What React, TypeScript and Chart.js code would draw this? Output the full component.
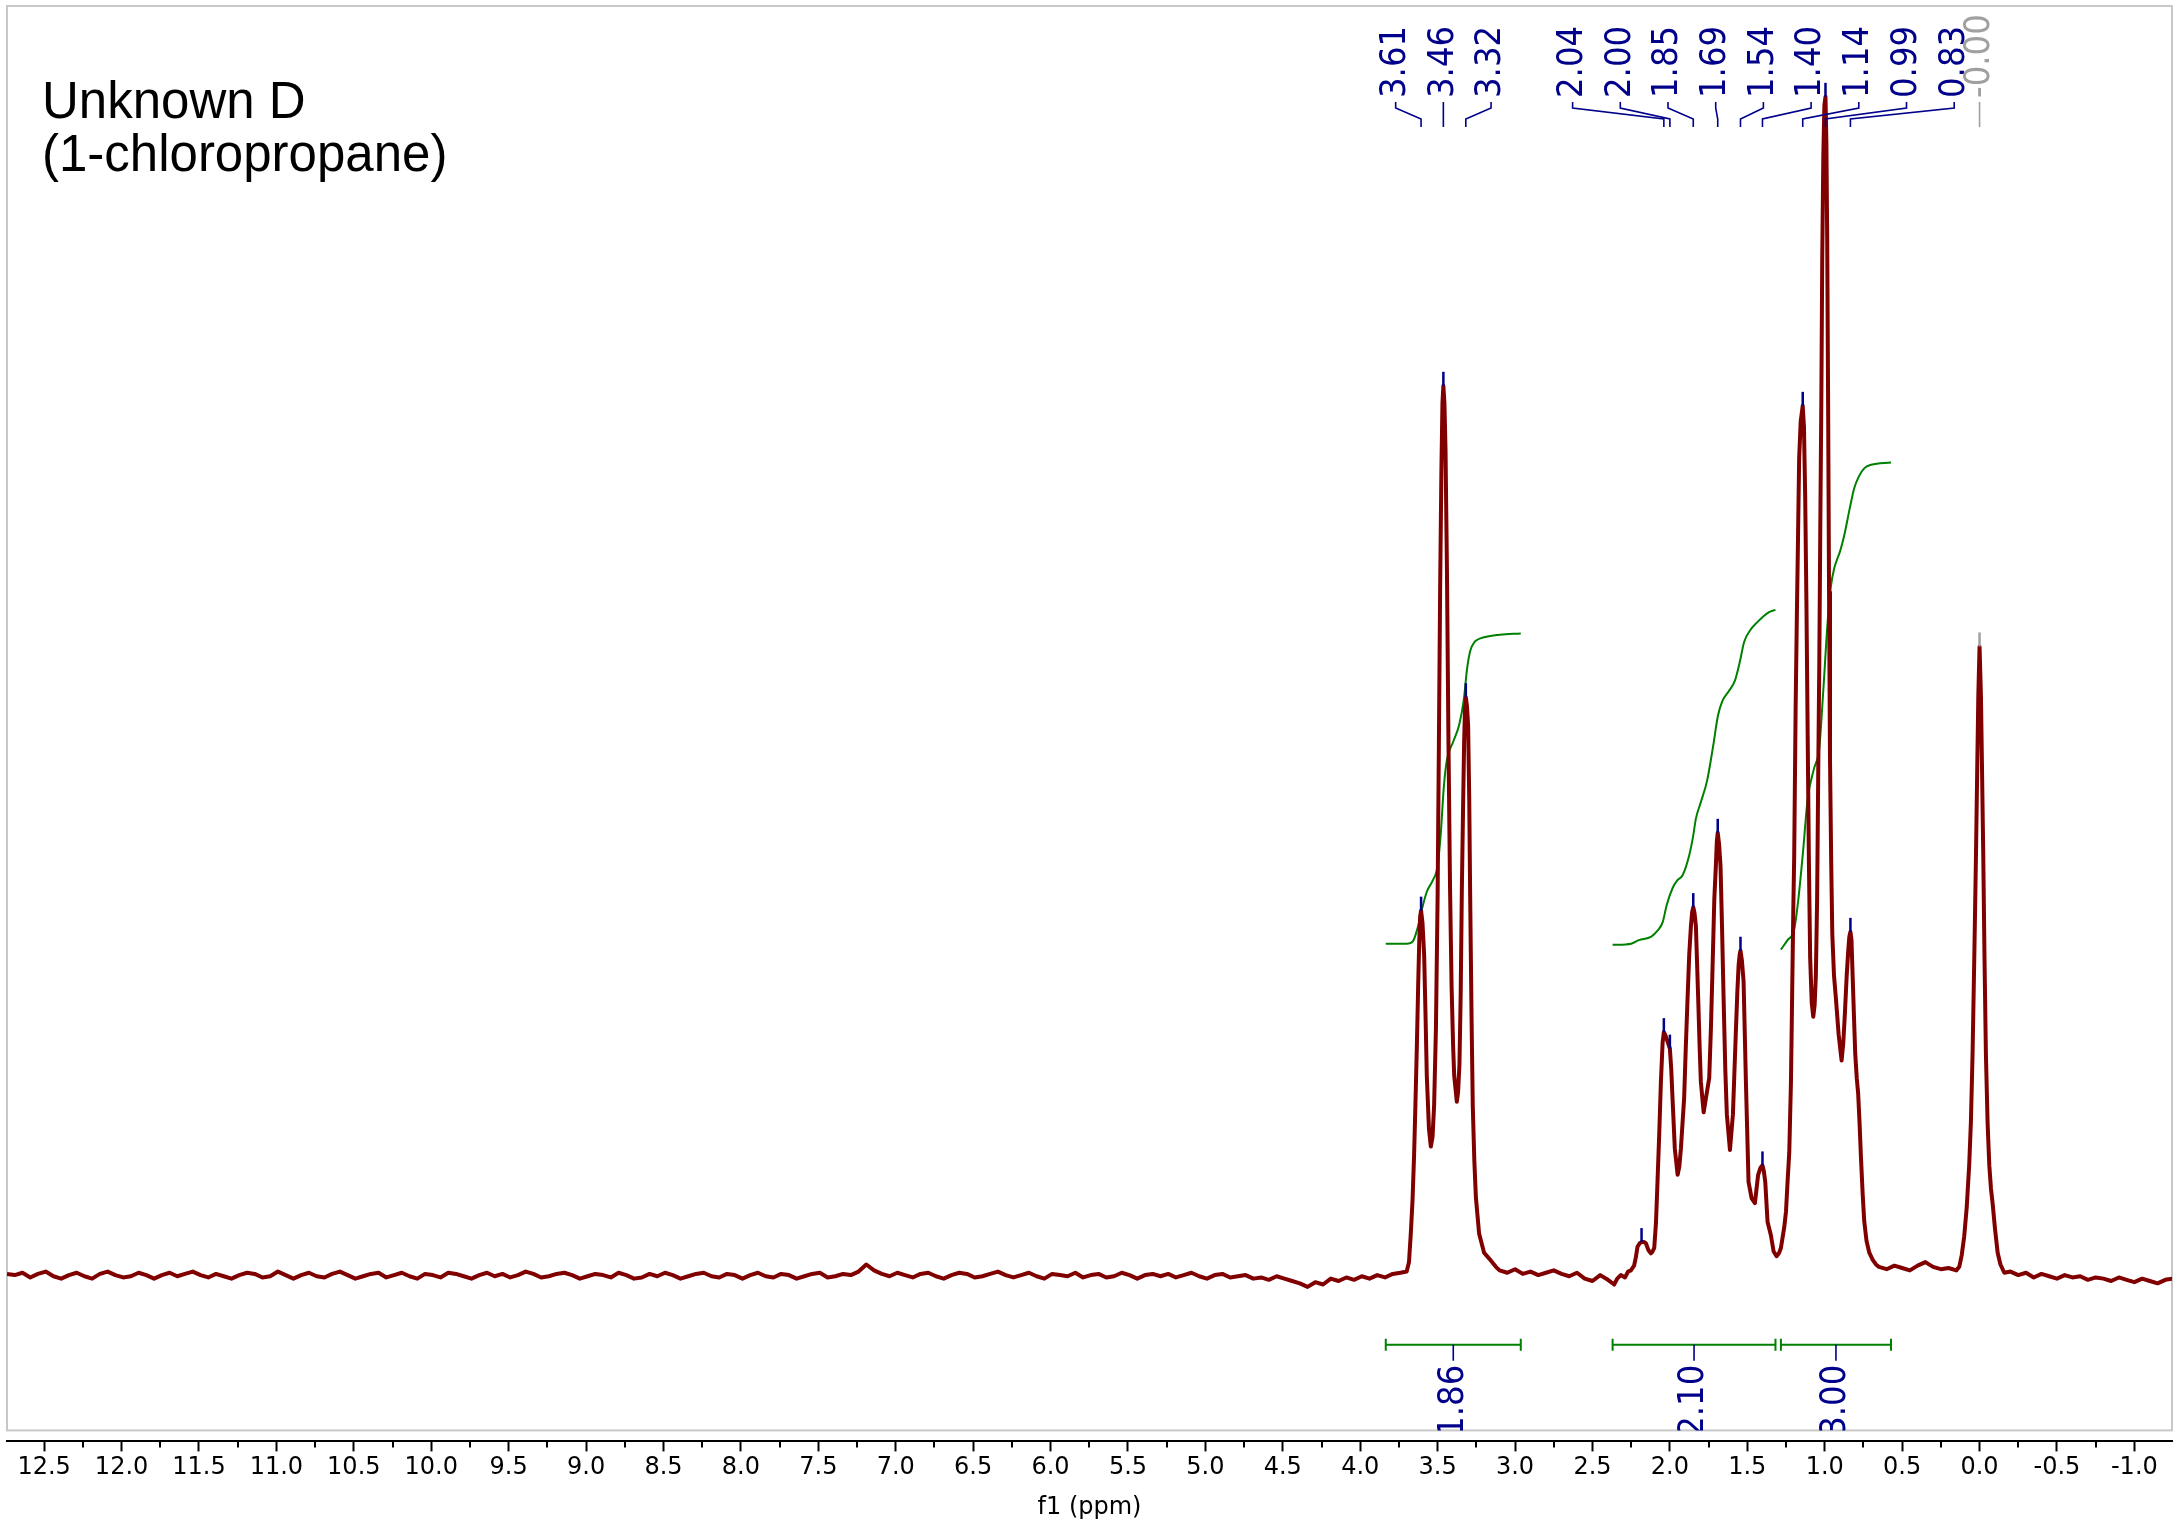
import React, { useEffect, useRef } from "react";
import { Chart, registerables } from "chart.js";

Chart.register(...registerables);

// ---- axis ranges (ppm, drawn reversed) and intensity range ----
const X_LEFT_PPM = 12.74;
const X_RIGHT_PPM = -1.243;
const Y_MIN = -14.0;
const Y_MAX = 107.7;
const X_TICK_STEP = 0.5;
const X_MINOR_STEP = 0.25;

const TITLE_LINES = ["Unknown D", "(1-chloropropane)"];
const X_AXIS_TITLE = "f1 (ppm)";

// ---- spectrum: baseline noise segments (start ppm, 0.05 ppm step) ----
const NOISE_STEP = 0.05;
const NOISE_A_START = 12.74;
const NOISE_A = [
  0.2, 0.1, 0.3, -0.1, 0.2, 0.4, 0.0, -0.2, 0.1, 0.3,
  0.0, -0.2, 0.2, 0.4, 0.1, -0.1, 0.0, 0.3, 0.1, -0.2,
  0.1, 0.3, 0.0, 0.2, 0.4, 0.1, -0.1, 0.2, 0.0, -0.2,
  0.1, 0.3, 0.2, -0.1, 0.0, 0.4, 0.1, -0.2, 0.1, 0.3,
  0.0, -0.1, 0.2, 0.4, 0.1, -0.2, 0.0, 0.2, 0.3, -0.1,
  0.1, 0.3, 0.0, -0.2, 0.2, 0.1, -0.1, 0.3, 0.2, 0.0,
  -0.2, 0.1, 0.3, 0.0, 0.2, -0.1, 0.1, 0.4, 0.2, -0.1,
  0.0, 0.2, 0.3, 0.1, -0.2, 0.0, 0.2, 0.1, -0.1, 0.3,
  0.1, -0.2, -0.1, 0.2, 0.0, 0.3, 0.1, -0.2, 0.0, 0.2,
  0.3, 0.0, -0.1, 0.2, 0.1, -0.2, 0.1, 0.3, 0.0, -0.1,
  0.2, 0.1, -0.2, 0.0, 0.2, 0.3, -0.1, 0.0, 0.2, 0.1,
  0.4, 1.0, 0.5, 0.2, 0.0, 0.3, 0.1, -0.1, 0.2, 0.3,
  0.0, -0.2, 0.1, 0.3, 0.2, -0.1, 0.0, 0.2, 0.4, 0.1,
  -0.1, 0.1, 0.3, 0.0, -0.2, 0.2, 0.1, 0.0, 0.3, -0.1,
  0.1, 0.2, -0.1, 0.0, 0.3, 0.1, -0.2, 0.1, 0.2, 0.0,
  0.2, -0.1, 0.1, 0.3, 0.0, -0.2, 0.1, 0.2, -0.1, 0.0,
  0.1, -0.2, -0.1, -0.3, 0.0, -0.2, -0.4, -0.6, -0.9, -0.5,
  -0.7, -0.2, -0.4, -0.1, -0.3, 0.0, -0.2, 0.1, -0.1, 0.2, 0.3,
];

// CH2Cl triplet (ppm, intensity)
const PEAKS_CH2CL: [number, number][] = [
  [3.70, 0.4], [3.685, 1.2], [3.673, 3.7], [3.662, 6.5], [3.652, 10.3], [3.643, 14.8],
  [3.634, 19.6], [3.626, 24.5], [3.619, 28.3], [3.613, 30.5], [3.607, 31.0], [3.598, 30.0],
  [3.587, 27.2], [3.578, 22.0], [3.57, 17.0], [3.556, 12.5], [3.544, 11.0], [3.533, 11.8],
  [3.523, 14.4], [3.511, 21.0], [3.5, 32.4], [3.492, 45], [3.484, 58.1], [3.476, 68],
  [3.469, 74.0], [3.463, 75.5], [3.456, 74.0], [3.449, 70.0], [3.44, 60], [3.43, 45.2],
  [3.42, 33], [3.41, 24.6], [3.40, 19.5], [3.393, 17], [3.376, 14.8], [3.368, 15.6],
  [3.359, 18.0], [3.351, 24], [3.344, 32.4], [3.336, 39.5], [3.329, 45.2], [3.323, 48.3],
  [3.318, 49.1], [3.311, 48.4], [3.303, 46.7], [3.296, 40.5], [3.29, 32.4], [3.281, 22],
  [3.273, 14.4], [3.263, 9.8], [3.253, 6.7], [3.232, 3.6], [3.20, 2.0], [3.167, 1.5],
  [3.124, 0.8],
];

const NOISE_B_START = 3.10;
const NOISE_B = [0.5, 0.3, 0.6, 0.2, 0.4, 0.1, 0.3, 0.5, 0.2, 0.0, 0.3, -0.2, -0.4, 0.1];

// CH2 sextet + CH3 triplet region (ppm, intensity)
const PEAKS_CH2_CH3: [number, number][] = [
  [2.40, -0.3], [2.36, -0.7], [2.34, -0.2], [2.317, 0.1], [2.29, -0.1], [2.27, 0.4],
  [2.252, 0.5], [2.231, 0.9], [2.22, 1.6], [2.209, 2.5], [2.195, 2.8], [2.183, 2.9],
  [2.168, 2.9], [2.155, 2.8], [2.138, 2.2], [2.123, 1.95], [2.112, 2.1], [2.101, 2.4],
  [2.09, 4.5], [2.08, 8.0], [2.069, 12.0], [2.058, 16.5], [2.047, 19.8], [2.039, 20.7],
  [2.028, 20.4], [2.015, 19.9], [2.0, 19.3], [1.991, 17.5], [1.983, 15.1], [1.968, 10.8],
  [1.95, 8.6], [1.939, 9.3], [1.929, 10.8], [1.908, 15.1], [1.897, 19.5], [1.886, 23.5],
  [1.875, 27.3], [1.864, 29.7], [1.856, 30.9], [1.849, 31.3], [1.841, 30.8], [1.832, 29.7],
  [1.817, 23.5], [1.808, 19.5], [1.80, 16.5], [1.782, 13.9], [1.771, 14.8], [1.761, 15.6],
  [1.746, 16.8], [1.735, 21], [1.724, 26.4], [1.713, 32], [1.703, 34.8], [1.697, 36.8],
  [1.691, 37.6], [1.682, 36.6], [1.673, 34.8], [1.663, 29.5], [1.653, 23.5], [1.642, 17.5],
  [1.632, 13.7], [1.612, 10.7], [1.593, 13.7], [1.584, 17], [1.574, 20.7], [1.564, 24.2],
  [1.556, 26.4], [1.549, 27.3], [1.544, 27.6], [1.535, 26.8], [1.524, 25.0], [1.509, 16.5],
  [1.492, 8.0], [1.472, 6.6], [1.451, 6.2], [1.43, 8.6], [1.415, 9.2], [1.402, 9.4],
  [1.393, 8.9], [1.384, 8.0], [1.369, 4.6], [1.348, 3.5], [1.33, 2.1], [1.311, 1.7],
  [1.294, 2.0], [1.283, 2.4], [1.262, 4.1], [1.25, 5.5], [1.240, 8.0], [1.229, 10.5],
  [1.218, 16.5], [1.212, 22.2], [1.203, 31], [1.197, 35.7], [1.188, 48], [1.18, 55.9],
  [1.172, 63], [1.165, 69.4], [1.155, 72.5], [1.142, 73.8], [1.134, 72], [1.126, 66],
  [1.118, 57], [1.11, 45.8], [1.102, 35], [1.094, 27], [1.084, 23.2], [1.074, 22.0],
  [1.065, 23], [1.057, 25.6], [1.049, 32], [1.042, 42.5], [1.035, 52], [1.029, 62.7],
  [1.022, 74], [1.016, 86.3], [1.009, 95], [1.002, 99.3], [0.995, 100], [0.989, 96],
  [0.984, 88], [0.978, 74], [0.972, 58], [0.966, 44], [0.958, 35], [0.951, 29.0],
  [0.94, 25.5], [0.928, 23.6], [0.91, 20.5], [0.891, 18.3], [0.88, 19.8], [0.87, 22.2],
  [0.858, 25.5], [0.848, 27.6], [0.841, 28.8], [0.834, 29.2], [0.827, 28.5], [0.82, 25.6],
  [0.811, 22], [0.803, 18.9], [0.793, 16.8], [0.784, 15.5], [0.775, 13], [0.766, 10.1],
  [0.755, 7], [0.745, 4.7], [0.73, 3.0], [0.712, 2.0], [0.69, 1.4], [0.669, 1.0],
];

const NOISE_C_START = 0.65;
const NOISE_C = [0.8, 0.6, 0.9, 0.7, 0.5, 0.9, 1.2, 0.8, 0.6, 0.7, 0.5];

// TMS reference singlet (ppm, intensity)
const PEAKS_TMS: [number, number][] = [
  [0.131, 0.8], [0.115, 1.8], [0.099, 3.4], [0.083, 5.8], [0.067, 9.4], [0.056, 13],
  [0.045, 18.9], [0.034, 27], [0.023, 35.7], [0.015, 43], [0.008, 49.2], [0.0, 53.4],
  [-0.009, 49.2], [-0.016, 43], [-0.024, 35.7], [-0.032, 27], [-0.041, 18.9], [-0.052, 13],
  [-0.063, 9.4], [-0.074, 7.4], [-0.085, 6.1], [-0.1, 4], [-0.117, 2.0], [-0.135, 1.0],
  [-0.16, 0.3],
];

const NOISE_D_START = -0.20;
const NOISE_D = [
  0.4, 0.1, 0.3, -0.1, 0.2, 0.0, -0.2, 0.1, -0.1, 0.0, -0.3,
  -0.1, -0.2, -0.4, -0.1, -0.3, -0.5, -0.2, -0.4, -0.6, -0.3, -0.2,
];

// ---- integral curves (ppm, height) ----
const INTEGRAL_1: [number, number][] = [
  [3.835, 28.2], [3.70, 28.2], [3.66, 28.4], [3.63, 29.5], [3.60, 31.2], [3.57, 32.6],
  [3.53, 33.6], [3.50, 34.8], [3.48, 37.5], [3.46, 41.5], [3.44, 43.8], [3.40, 45.3],
  [3.36, 46.8], [3.33, 49], [3.31, 51.5], [3.29, 53.0], [3.26, 53.8], [3.22, 54.1],
  [3.10, 54.4], [2.963, 54.5],
];
const INTEGRAL_2: [number, number][] = [
  [2.37, 28.1], [2.25, 28.2], [2.20, 28.5], [2.12, 28.8], [2.08, 29.3], [2.047, 30.0],
  [2.02, 31.5], [1.983, 32.9], [1.95, 33.6], [1.918, 34.0], [1.875, 35.7], [1.85, 37.3],
  [1.832, 38.8], [1.80, 40.2], [1.76, 42], [1.72, 45], [1.69, 47.5], [1.66, 48.8],
  [1.62, 49.6], [1.58, 50.5], [1.55, 52], [1.52, 53.8], [1.48, 54.8], [1.44, 55.4],
  [1.40, 55.9], [1.36, 56.3], [1.318, 56.5],
];
const INTEGRAL_3: [number, number][] = [
  [1.283, 27.7], [1.24, 28.5], [1.197, 29.4], [1.17, 32], [1.14, 36], [1.11, 40.5],
  [1.07, 43], [1.035, 44.8], [1.01, 49.5], [0.981, 55.5], [0.96, 58.5], [0.939, 60],
  [0.90, 61.5], [0.874, 62.8], [0.84, 65], [0.81, 66.8], [0.78, 67.8], [0.745, 68.5],
  [0.70, 68.8], [0.572, 69],
];

// ---- integration bars ----
const INTEGRAL_RANGES: [number, number][] = [[3.835, 2.963], [2.37, 1.318], [1.283, 0.572]];
const INTEGRAL_VALUES = ["1.86", "2.10", "3.00"];
const INTEGRAL_BAR_LEVEL = -5.8;

// ---- peak picking ----
const PEAK_PPM = [3.607, 3.463, 3.318, 2.039, 2.0, 1.849, 1.691, 1.544, 1.402, 1.142, 0.995, 0.834, 0.0];
const PEAK_LABELS = ["3.61", "3.46", "3.32", "2.04", "2.00", "1.85", "1.69", "1.54", "1.40", "1.14", "0.99", "0.83", "-0.00"];
const PEAK_HEIGHTS = [31.0, 75.5, 49.1, 20.7, 19.3, 31.3, 37.6, 27.6, 9.4, 73.8, 100, 29.2, 53.4];
const PEAK_IS_REFERENCE = [false, false, false, false, false, false, false, false, false, false, false, false, true];
const EXTRA_MARKER_PPM = [2.183];
const EXTRA_MARKER_HEIGHTS = [2.9];
const LABEL_GROUPS = [[0, 1, 2], [3, 4, 5, 6, 7, 8, 9, 10, 11], [12]];
const LABEL_GROUP_CENTER_PPM = [3.463, 1.396, 0.0];

// ---- styling ----
const SPECTRUM_COLOR = "#800000";
const INTEGRAL_COLOR = "#008000";
const LABEL_COLOR = "#00008B";
const REF_COLOR = "#a0a0a0";
const FRAME_COLOR = "#c8c8c8";
const LABEL_FONT = '36px "DejaVu Sans Condensed", "DejaVu Sans", sans-serif';
const AXIS_FONT_FAMILY = '"DejaVu Sans", Verdana, sans-serif';

function noisePoints(start: number, values: number[]) {
  return values.map((v, i) => ({ x: Math.round((start - i * NOISE_STEP) * 1000) / 1000, y: v }));
}
function pairPoints(list: [number, number][]) {
  return list.map(([x, y]) => ({ x, y }));
}

const nmrPlugin = {
  id: "nmrDecorations",
  beforeDraw(chart: any) {
    const { ctx, chartArea } = chart;
    const frameBottom = chartArea.bottom - 11;
    ctx.save();
    ctx.strokeStyle = FRAME_COLOR;
    ctx.lineWidth = 2;
    ctx.strokeRect(chartArea.left, chartArea.top, chartArea.right - chartArea.left, frameBottom - chartArea.top);
    ctx.restore();
  },
  afterDatasetsDraw(chart: any) {
    const { ctx, chartArea } = chart;
    const xs = chart.scales.x;
    const ys = chart.scales.y;
    const frameBottom = chartArea.bottom - 11;

    // title
    ctx.save();
    ctx.fillStyle = "#000";
    ctx.font = '51px "Liberation Sans", Arial, sans-serif';
    ctx.textAlign = "left";
    ctx.textBaseline = "alphabetic";
    ctx.fillText(TITLE_LINES[0], 42, 118);
    ctx.fillText(TITLE_LINES[1], 42, 171);
    ctx.restore();

    // peak markers
    ctx.save();
    ctx.lineWidth = 2.5;
    const marker = (ppm: number, h: number, color: string) => {
      const px = xs.getPixelForValue(ppm);
      const py = ys.getPixelForValue(h);
      ctx.strokeStyle = color;
      ctx.beginPath();
      ctx.moveTo(px, py - 14);
      ctx.lineTo(px, py);
      ctx.stroke();
    };
    PEAK_PPM.forEach((p, i) => marker(p, PEAK_HEIGHTS[i], PEAK_IS_REFERENCE[i] ? REF_COLOR : LABEL_COLOR));
    EXTRA_MARKER_PPM.forEach((p, i) => marker(p, EXTRA_MARKER_HEIGHTS[i], LABEL_COLOR));
    ctx.restore();

    // peak labels with leaders
    const spacing = 47.7;
    const textBottom = 100;
    ctx.save();
    ctx.beginPath();
    ctx.rect(chartArea.left, chartArea.top + 1, chartArea.right - chartArea.left, frameBottom - chartArea.top);
    ctx.clip();
    ctx.font = LABEL_FONT;
    try { (ctx as any).fontStretch = "condensed"; } catch (e) {}
    LABEL_GROUPS.forEach((group, gi) => {
      const cx = xs.getPixelForValue(LABEL_GROUP_CENTER_PPM[gi]);
      group.forEach((idx, k) => {
        const lx = cx + (k - (group.length - 1) / 2) * spacing;
        const peakX = xs.getPixelForValue(PEAK_PPM[idx]);
        const color = PEAK_IS_REFERENCE[idx] ? REF_COLOR : LABEL_COLOR;
        ctx.fillStyle = color;
        ctx.strokeStyle = color;
        ctx.save();
        ctx.translate(lx, textBottom - 2);
        ctx.rotate(-Math.PI / 2);
        ctx.textAlign = "left";
        ctx.textBaseline = "middle";
        ctx.fillText(PEAK_LABELS[idx], 0, 0);
        ctx.restore();
        ctx.lineWidth = 1.6;
        ctx.beginPath();
        ctx.moveTo(lx, textBottom + 2);
        ctx.lineTo(lx, textBottom + 8);
        ctx.lineTo(peakX, textBottom + 19);
        ctx.lineTo(peakX, textBottom + 27);
        ctx.stroke();
      });
    });
    ctx.restore();

    // integration bars and values
    const barY = ys.getPixelForValue(INTEGRAL_BAR_LEVEL);
    ctx.save();
    ctx.beginPath();
    ctx.rect(chartArea.left, chartArea.top, chartArea.right - chartArea.left, frameBottom - chartArea.top);
    ctx.clip();
    INTEGRAL_RANGES.forEach(([a, b], i) => {
      const x1 = xs.getPixelForValue(a);
      const x2 = xs.getPixelForValue(b);
      ctx.strokeStyle = INTEGRAL_COLOR;
      ctx.lineWidth = 2;
      ctx.beginPath();
      ctx.moveTo(x1, barY);
      ctx.lineTo(x2, barY);
      ctx.moveTo(x1, barY - 6);
      ctx.lineTo(x1, barY + 6);
      ctx.moveTo(x2, barY - 6);
      ctx.lineTo(x2, barY + 6);
      ctx.stroke();
      const mx = xs.getPixelForValue((a + b) / 2);
      ctx.strokeStyle = LABEL_COLOR;
      ctx.lineWidth = 1.6;
      ctx.beginPath();
      ctx.moveTo(mx, barY);
      ctx.lineTo(mx, barY + 16);
      ctx.stroke();
      ctx.fillStyle = LABEL_COLOR;
      ctx.font = LABEL_FONT;
      try { (ctx as any).fontStretch = "condensed"; } catch (e) {}
      ctx.save();
      ctx.translate(mx, barY + 20);
      ctx.rotate(-Math.PI / 2);
      ctx.textAlign = "right";
      ctx.textBaseline = "middle";
      ctx.fillText(INTEGRAL_VALUES[i], 0, 0);
      ctx.restore();
    });
    ctx.restore();
  },
  afterDraw(chart: any) {
    const { ctx } = chart;
    const xs = chart.scales.x;
    const axisY = xs.top;
    ctx.save();
    ctx.strokeStyle = "#000";
    ctx.lineWidth = 2;
    const lo = Math.ceil(X_RIGHT_PPM / X_MINOR_STEP);
    const hi = Math.floor(X_LEFT_PPM / X_MINOR_STEP);
    for (let k = lo; k <= hi; k++) {
      const v = k * X_MINOR_STEP;
      if (Math.abs(v / X_TICK_STEP - Math.round(v / X_TICK_STEP)) < 1e-6) continue;
      const px = Math.round(xs.getPixelForValue(v));
      ctx.beginPath();
      ctx.moveTo(px, axisY);
      ctx.lineTo(px, axisY + 6);
      ctx.stroke();
    }
    ctx.restore();
  },
};

export default function App() {
  const canvasRef = useRef<HTMLCanvasElement | null>(null);

  useEffect(() => {
    const canvas = canvasRef.current;
    if (!canvas) return;
    const spectrum = [
      ...noisePoints(NOISE_A_START, NOISE_A),
      ...pairPoints(PEAKS_CH2CL),
      ...noisePoints(NOISE_B_START, NOISE_B),
      ...pairPoints(PEAKS_CH2_CH3),
      ...noisePoints(NOISE_C_START, NOISE_C),
      ...pairPoints(PEAKS_TMS),
      ...noisePoints(NOISE_D_START, NOISE_D),
    ];
    const integralDs = (data: [number, number][]) => ({
      data: pairPoints(data),
      borderColor: INTEGRAL_COLOR,
      borderWidth: 2,
      pointRadius: 0,
      cubicInterpolationMode: "monotone" as const,
      fill: false,
    });
    const chart = new Chart(canvas, {
      type: "line",
      data: {
        datasets: [
          {
            data: spectrum,
            borderColor: SPECTRUM_COLOR,
            borderWidth: 4,
            pointRadius: 0,
            tension: 0,
            borderJoinStyle: "round",
            fill: false,
          },
          integralDs(INTEGRAL_1),
          integralDs(INTEGRAL_2),
          integralDs(INTEGRAL_3),
        ],
      },
      options: {
        animation: false,
        responsive: false,
        devicePixelRatio: 1,
        layout: { padding: { left: 7, right: 7, top: 6, bottom: 0 } },
        plugins: { legend: { display: false }, tooltip: { enabled: false } },
        scales: {
          x: {
            type: "linear",
            reverse: true,
            min: X_RIGHT_PPM,
            max: X_LEFT_PPM,
            ticks: {
              stepSize: X_TICK_STEP,
              includeBounds: false,
              autoSkip: false,
              maxRotation: 0,
              color: "#000",
              padding: 2,
              font: { family: AXIS_FONT_FAMILY, size: 24 },
              callback: (v: any) => Number(v).toFixed(1),
            },
            grid: {
              drawOnChartArea: false,
              drawTicks: true,
              tickLength: 10,
              tickColor: "#000",
              tickWidth: 2,
            },
            border: { display: true, color: "#000", width: 2 },
            title: {
              display: true,
              text: X_AXIS_TITLE,
              color: "#000",
              font: { family: AXIS_FONT_FAMILY, size: 24 },
              padding: { top: 9, bottom: 0 },
            },
          },
          y: { display: false, min: Y_MIN, max: Y_MAX },
        },
      },
      plugins: [nmrPlugin],
    });
    return () => chart.destroy();
  }, []);

  return (
    <div style={{ position: "absolute", left: 0, top: 0, width: 2179, height: 1522, background: "#fff" }}>
      <canvas ref={canvasRef} width={2179} height={1522} style={{ display: "block" }} />
    </div>
  );
}
